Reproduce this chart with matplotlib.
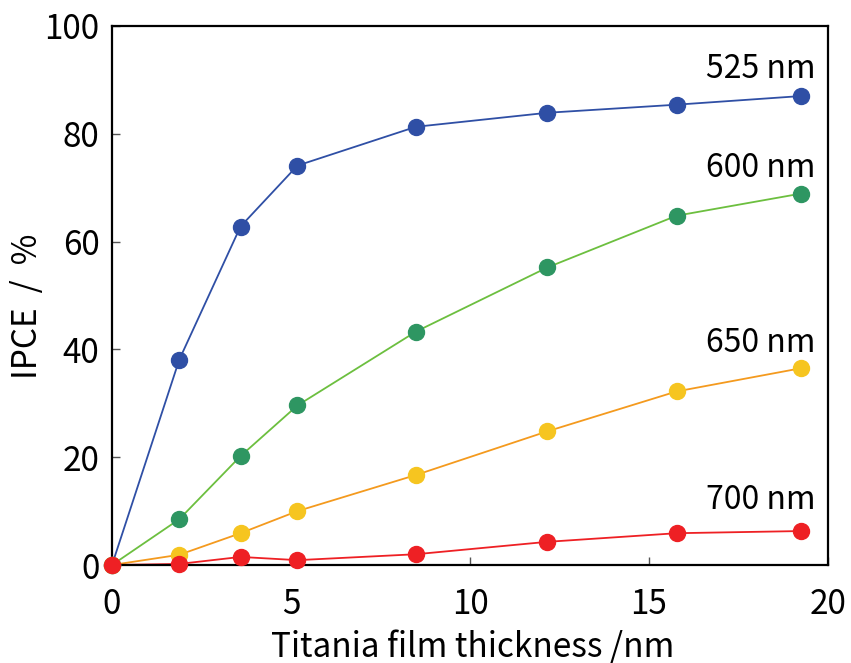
import matplotlib
matplotlib.use("Agg")
import matplotlib.pyplot as plt

plt.rcParams['font.family'] = ['Noto Sans CJK JP', 'DejaVu Sans']

# Film thickness (nm) and IPCE (%) at four wavelengths
thickness = [0.0, 1.88, 3.59, 5.18, 8.49, 12.16, 15.77, 19.24]
ipce_525 = [0.0, 38.1, 62.8, 74.1, 81.3, 83.9, 85.4, 87.0]
ipce_600 = [0.0, 8.5, 20.2, 29.6, 43.3, 55.2, 64.8, 68.9]
ipce_650 = [0.0, 1.9, 5.9, 10.0, 16.7, 24.8, 32.2, 36.5]
ipce_700 = [0.0, 0.2, 1.5, 0.9, 2.0, 4.3, 5.9, 6.3]

series_labels = ["525 nm", "600 nm", "650 nm", "700 nm"]
label_y = [90.4, 72.0, 39.6, 10.4]

x_ticks = [0, 5, 10, 15, 20]
y_ticks = [0, 20, 40, 60, 80, 100]

styles = [
    (ipce_525, "#2f4fa5", "#2f4fa5"),
    (ipce_600, "#6cbf3f", "#2e9662"),
    (ipce_650, "#f49a1e", "#f6c520"),
    (ipce_700, "#ee2024", "#ee2024"),
]

fig = plt.figure(figsize=(8.51, 6.63), dpi=100)
ax = fig.add_axes([0.1316, 0.1478, 0.8414, 0.813])

for i, (vals, lc, mc) in enumerate(styles):
    ax.plot(thickness, vals, color=lc, lw=1.3, zorder=2 + i * 0.1)
    ax.plot(thickness, vals, linestyle="none", marker="o", ms=11.5,
            markerfacecolor=mc, markeredgecolor=mc, zorder=5 + i * 0.1,
            clip_on=False)

for lab, yv in zip(series_labels, label_y):
    ax.text(19.66, yv, lab, ha="right", va="baseline", fontsize=23,
            color="black")

ax.set_xlim(0, 20)
ax.set_ylim(0, 100)
ax.set_xticks(x_ticks)
ax.set_yticks(y_ticks)
ax.tick_params(direction="in", length=6, width=1, color="#555555",
               labelsize=24)
ax.tick_params(axis="x", pad=16)
ax.tick_params(axis="y", pad=9)
for s in ax.spines.values():
    s.set_linewidth(1.6)
    s.set_zorder(3)

# Axis titles placed in figure coordinates
fig.text(0.555, 0.0095, "Titania film thickness /nm", fontsize=24,
         ha="center", va="baseline")
fig.text(0.032, 0.5385, "IPCE  /  %", fontsize=24, rotation=90,
         ha="center", va="center")

fig.savefig("out.png", dpi=100)
